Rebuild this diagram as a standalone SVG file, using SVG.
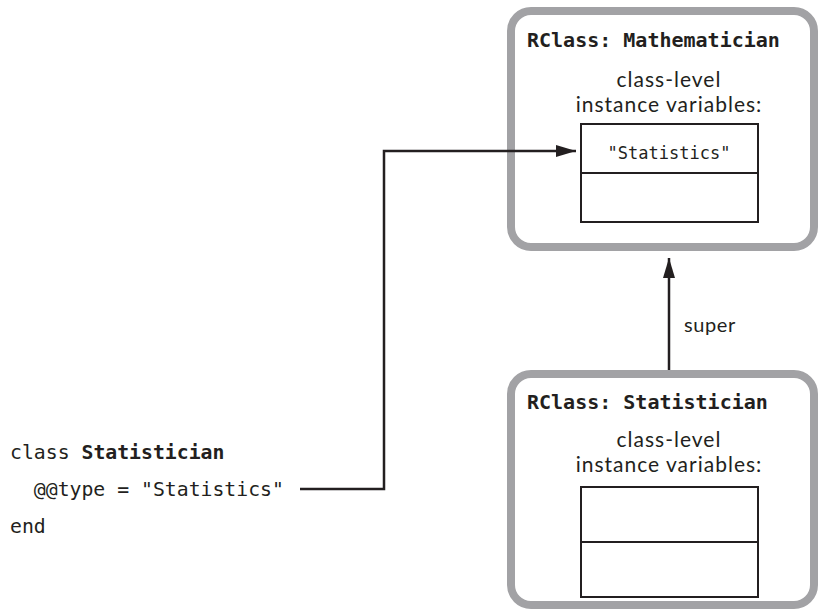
<svg xmlns="http://www.w3.org/2000/svg" width="821" height="609" viewBox="0 0 821 609">
<defs>
<style>
.frame{fill:#fff;stroke:#a2a2a5;stroke-width:8}
.cell{fill:#fff;stroke:#231f20;stroke-width:2}
.title{font-family:"DejaVu Sans Mono","Liberation Mono",monospace;font-weight:bold;font-size:20px;fill:#231f20}
.code{font-family:"DejaVu Sans Mono","Liberation Mono",monospace;font-size:19.8px;fill:#231f20}
.val{font-family:"DejaVu Sans Mono","Liberation Mono",monospace;font-size:17px;fill:#231f20}
.lbl{font-family:Lato,"Open Sans",sans-serif;font-size:21px;letter-spacing:1px;fill:#231f20;text-anchor:middle}
.wire{fill:none;stroke:#231f20;stroke-width:2.5}
</style>
<marker id="ah" viewBox="0 0 20 12" refX="20" refY="6" markerWidth="20" markerHeight="12" markerUnits="userSpaceOnUse" orient="auto">
<path d="M0,0 L20,6 L0,12 Z" fill="#231f20"/>
</marker>
</defs>
<g id="mathematician">
<rect class="frame" x="511" y="11" width="303" height="236" rx="20"/>
<text class="title" x="527" y="47">RClass: Mathematician</text>
<text class="lbl" x="669" y="87">class-level</text>
<text class="lbl" x="669" y="112">instance variables:</text>
<rect class="cell" x="581" y="124" width="177" height="98"/>
<line class="cell" x1="581" y1="173" x2="758" y2="173"/>
<text class="val" x="669" y="159" text-anchor="middle">"Statistics"</text>
</g>
<g id="statistician">
<rect class="frame" x="511" y="374" width="303" height="231" rx="20"/>
<text class="title" x="527" y="409">RClass: Statistician</text>
<text class="lbl" x="669" y="447">class-level</text>
<text class="lbl" x="669" y="472">instance variables:</text>
<rect class="cell" x="581" y="487" width="177" height="110"/>
<line class="cell" x1="581" y1="542" x2="758" y2="542"/>
</g>
<g id="code">
<text class="code" x="10" y="459">class <tspan font-weight="bold">Statistician</tspan></text>
<text class="code" x="10" y="496" xml:space="preserve">  @@type = "Statistics"</text>
<text class="code" x="10" y="533">end</text>
</g>
<g id="connectors">
<polyline class="wire" points="300,489 384,489 384,151 576,151" marker-end="url(#ah)"/>
<line class="wire" x1="669" y1="370" x2="669" y2="258" marker-end="url(#ah)"/>
<text x="684" y="332" font-family="Lato, Open Sans, sans-serif" font-size="20" letter-spacing="0.6" fill="#231f20">super</text>
</g>
</svg>
